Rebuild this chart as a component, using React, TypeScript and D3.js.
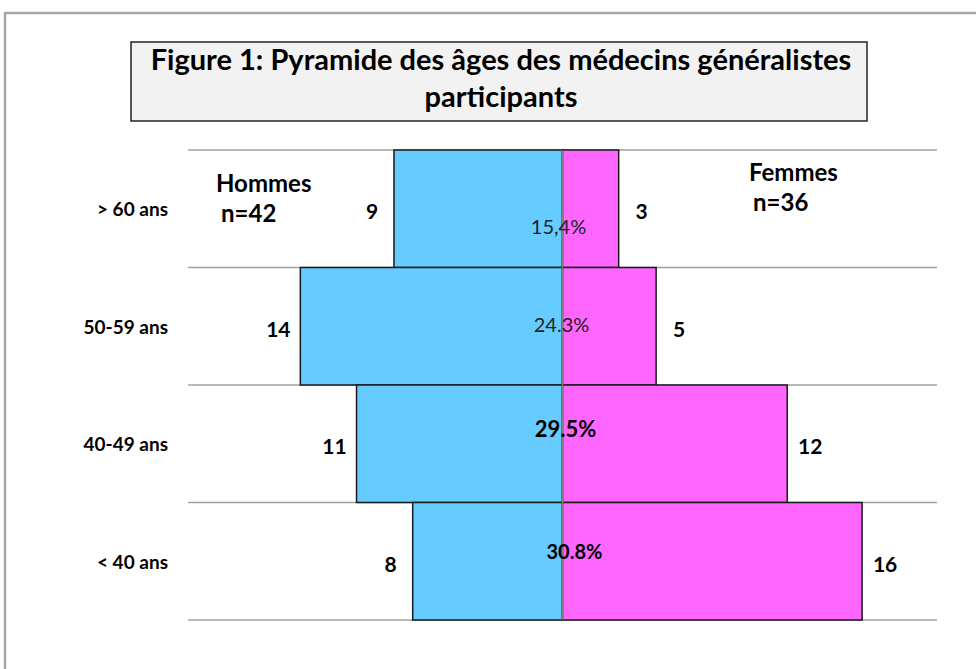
import React, { useRef, useEffect } from "react";
import * as d3 from "d3";

// data
const ageGroups = ["> 60 ans", "50-59 ans", "40-49 ans", "< 40 ans"];
const hommes = [9, 14, 11, 8];
const femmes = [3, 5, 12, 16];
const percentLabels = ["15,4%", "24.3%", "29.5%", "30.8%"];
const titleLines = [
  "Figure 1: Pyramide des âges des médecins généralistes",
  "participants",
];
const legendHommes = ["Hommes", "n=42"];
const legendFemmes = ["Femmes", "n=36"];

// the percent labels are placed by hand in the original
const percentStyle = [
  { dx: -4, dy: 18, bold: false, size: 20 },
  { dx: -1, dy: -1, bold: false, size: 20 },
  { dx: 3, dy: -14, bold: true, size: 22 },
  { dx: 12, dy: -9, bold: true, size: 20 },
];

const FONT = "Lato, 'Open Sans', sans-serif";

const App = () => {
  const svgRef = useRef(null);

  useEffect(() => {
    const svg = d3.select(svgRef.current);
    svg.selectAll("*").remove();

    const width = 976,
      height = 669,
      margin = { top: 150, right: 39, bottom: 49, left: 188 };

    const x = d3
      .scaleLinear()
      .domain([-20, 20])
      .range([margin.left, width - margin.right]);
    const y = d3
      .scaleBand()
      .domain(ageGroups)
      .range([margin.top, height - margin.bottom])
      .padding(0);

    // outer frame
    svg
      .append("rect")
      .attr("x", 5)
      .attr("y", 13)
      .attr("width", 1000)
      .attr("height", 700)
      .attr("fill", "white")
      .attr("stroke", "#a6a6a6")
      .attr("stroke-width", 2.5);

    // title box
    svg
      .append("rect")
      .attr("x", 131)
      .attr("y", 42)
      .attr("width", 736)
      .attr("height", 79)
      .attr("fill", "#f2f2f2")
      .attr("stroke", "#222")
      .attr("stroke-width", 1.5);
    svg
      .append("g")
      .selectAll("text")
      .data(titleLines)
      .enter()
      .append("text")
      .attr("x", 501)
      .attr("y", (d, i) => 70 + i * 37)
      .attr("text-anchor", "middle")
      .style("font-family", FONT)
      .style("font-weight", "bold")
      .style("font-size", "29px")
      .text((d) => d);

    // grid lines
    const gridY = ageGroups.map((d) => y(d)).concat([y.range()[1]]);
    svg
      .append("g")
      .selectAll("line")
      .data(gridY)
      .enter()
      .append("line")
      .attr("x1", x(-20))
      .attr("x2", x(20))
      .attr("y1", (d) => d)
      .attr("y2", (d) => d)
      .attr("stroke", "#a0a0a0")
      .attr("stroke-width", 1.5);

    // Hommes bars
    svg
      .append("g")
      .selectAll("rect")
      .data(hommes)
      .enter()
      .append("rect")
      .attr("x", (d) => x(-d))
      .attr("y", (d, i) => y(ageGroups[i]))
      .attr("width", (d) => x(0) - x(-d))
      .attr("height", y.bandwidth())
      .attr("fill", "#66ccff")
      .attr("stroke", "#1a1a1a")
      .attr("stroke-width", 1.5);

    // Femmes bars
    svg
      .append("g")
      .selectAll("rect")
      .data(femmes)
      .enter()
      .append("rect")
      .attr("x", x(0))
      .attr("y", (d, i) => y(ageGroups[i]))
      .attr("width", (d) => x(d) - x(0))
      .attr("height", y.bandwidth())
      .attr("fill", "#ff66ff")
      .attr("stroke", "#1a1a1a")
      .attr("stroke-width", 1.5);

    // center line
    svg
      .append("line")
      .attr("x1", x(0))
      .attr("x2", x(0))
      .attr("y1", y.range()[0])
      .attr("y2", y.range()[1])
      .attr("stroke", "#808080")
      .attr("stroke-width", 1.5);

    // category labels
    svg
      .append("g")
      .selectAll("text")
      .data(ageGroups)
      .enter()
      .append("text")
      .attr("x", 168)
      .attr("y", (d) => y(d) + y.bandwidth() / 2 + 1)
      .attr("dy", "0.35em")
      .attr("text-anchor", "end")
      .style("font-family", FONT)
      .style("font-weight", "bold")
      .style("font-size", "19px")
      .text((d) => d);

    // value labels
    svg
      .append("g")
      .selectAll("text")
      .data(hommes)
      .enter()
      .append("text")
      .attr("x", (d) => x(-d) - 22)
      .attr("y", (d, i) => y(ageGroups[i]) + y.bandwidth() / 2 + 3)
      .attr("dy", "0.35em")
      .attr("text-anchor", "middle")
      .style("font-family", FONT)
      .style("font-weight", "bold")
      .style("font-size", "21px")
      .text((d) => d);
    svg
      .append("g")
      .selectAll("text")
      .data(femmes)
      .enter()
      .append("text")
      .attr("x", (d) => x(d) + 23)
      .attr("y", (d, i) => y(ageGroups[i]) + y.bandwidth() / 2 + 3)
      .attr("dy", "0.35em")
      .attr("text-anchor", "middle")
      .style("font-family", FONT)
      .style("font-weight", "bold")
      .style("font-size", "21px")
      .text((d) => d);

    // percent labels
    svg
      .append("g")
      .selectAll("text")
      .data(percentLabels)
      .enter()
      .append("text")
      .attr("x", (d, i) => x(0) + percentStyle[i].dx)
      .attr(
        "y",
        (d, i) => y(ageGroups[i]) + y.bandwidth() / 2 + percentStyle[i].dy
      )
      .attr("dy", "0.35em")
      .attr("text-anchor", "middle")
      .attr("fill", (d, i) => (percentStyle[i].bold ? "#000" : "#222"))
      .style("font-family", FONT)
      .style("font-weight", (d, i) => (percentStyle[i].bold ? "bold" : "normal"))
      .style("font-size", (d, i) => percentStyle[i].size + "px")
      .text((d) => d);

    // legend texts
    const legend = (lines, xs, y0) => {
      svg
        .append("g")
        .selectAll("text")
        .data(lines)
        .enter()
        .append("text")
        .attr("x", (d, i) => xs[i])
        .attr("y", (d, i) => y0 + i * 30)
        .style("font-family", FONT)
        .style("font-weight", "bold")
        .style("font-size", "24px")
        .text((d) => d);
    };
    legend(legendHommes, [216, 221], 192);
    legend(legendFemmes, [749, 753], 181);
  }, []);

  return (
    <svg
      ref={svgRef}
      width={976}
      height={669}
      style={{ position: "absolute", left: 0, top: 0, background: "white" }}
    ></svg>
  );
};

export default App;
